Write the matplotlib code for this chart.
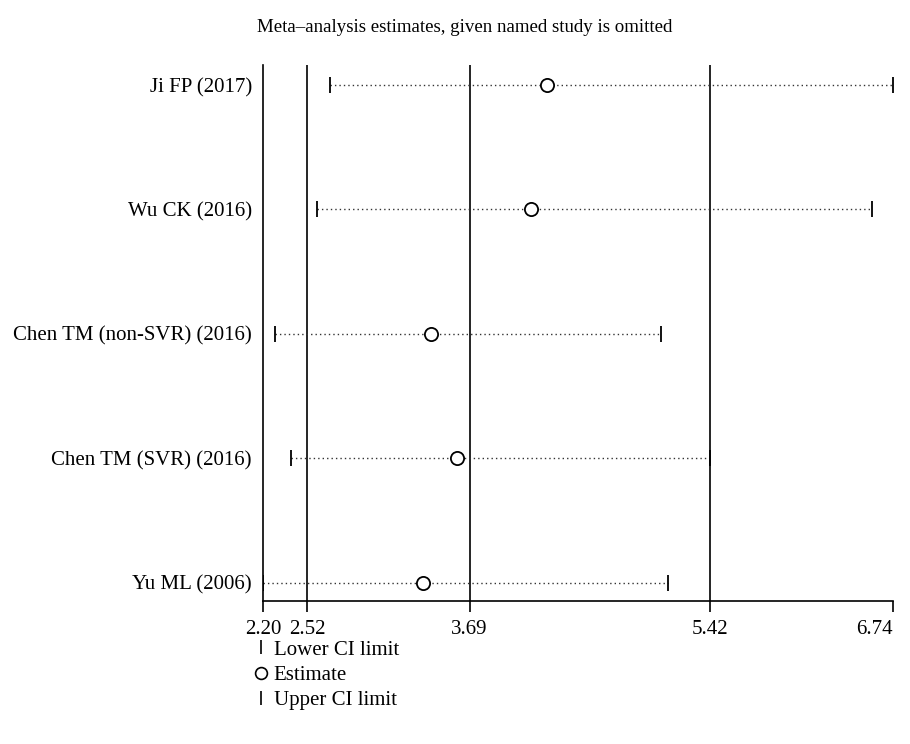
import matplotlib
matplotlib.use("Agg")
import matplotlib.pyplot as plt
from matplotlib.lines import Line2D

plt.rcParams['font.family'] = ['Liberation Serif', 'DejaVu Serif']

# ---------- Data ----------
studies = ["Ji FP (2017)", "Wu CK (2016)", "Chen TM (non-SVR) (2016)",
           "Chen TM (SVR) (2016)", "Yu ML (2006)"]
estimate = [4.25, 4.13, 3.41, 3.60, 3.35]
lower = [2.68, 2.59, 2.29, 2.40, 2.20]
upper = [6.74, 6.59, 5.07, 5.42, 5.12]

pooled = [2.52, 3.69, 5.42]          # pooled lower CI, estimate, upper CI
xticks = [2.20, 2.52, 3.69, 5.42, 6.74]
title = "Meta\u2013analysis estimates, given named study is omitted"

FONT_SIZE = 15

fig = plt.figure(figsize=(9.1, 7.44), dpi=100)
ax = fig.add_axes([263 / 910, 1 - 600.7 / 744, 629.7 / 910, 535.7 / 744])

ypos = list(range(len(studies), 0, -1))

# reference lines for the pooled estimate
for v in pooled:
    ax.axvline(v, color="black", lw=1.2, zorder=1)

for y, lo, est, hi in zip(ypos, lower, estimate, upper):
    ax.plot([lo, hi], [y, y], color="#333333", lw=1.0, ls=(0, (1, 2.2)), zorder=2)
    ax.plot([lo, hi], [y, y], ls="none", marker="|", ms=11, mew=1.3,
            color="black", zorder=3)
    ax.plot(est, y, ls="none", marker="o", ms=9.5, mfc="white", mec="black",
            mew=1.3, zorder=4)

ax.set_xlim(xticks[0], xticks[-1])
ax.set_ylim(0.855, 5.16)

ax.set_xticks(xticks)
ax.set_xticklabels([f"{t:.2f}" for t in xticks], fontsize=FONT_SIZE)
ax.get_xticklabels()[-1].set_horizontalalignment("right")
ax.set_yticks(ypos)
ax.set_yticklabels(studies, fontsize=FONT_SIZE)

ax.tick_params(axis="y", length=0, pad=8)
ax.tick_params(axis="x", length=8, width=1.2, pad=6)

for s in ["top", "right"]:
    ax.spines[s].set_visible(False)
ax.spines["left"].set_linewidth(1.2)
ax.spines["bottom"].set_linewidth(1.2)

fig.text(465 / 910, 1 - 28 / 744, title, ha="center", va="center",
         fontsize=13.6)

handles = [
    Line2D([], [], ls="none", marker="|", ms=10, mew=1.2, color="black"),
    Line2D([], [], ls="none", marker="o", ms=8.5, mfc="white", mec="black", mew=1.2),
    Line2D([], [], ls="none", marker="|", ms=10, mew=1.2, color="black"),
]
fig.legend(handles, ["Lower CI limit", "Estimate", "Upper CI limit"],
           loc="upper left", bbox_to_anchor=(255 / 910, 1 - 640 / 744),
           frameon=False, fontsize=FONT_SIZE, handlelength=0.6,
           handletextpad=0.3, labelspacing=0.27, borderaxespad=0,
           borderpad=0)

fig.savefig("out.png", dpi=100)
